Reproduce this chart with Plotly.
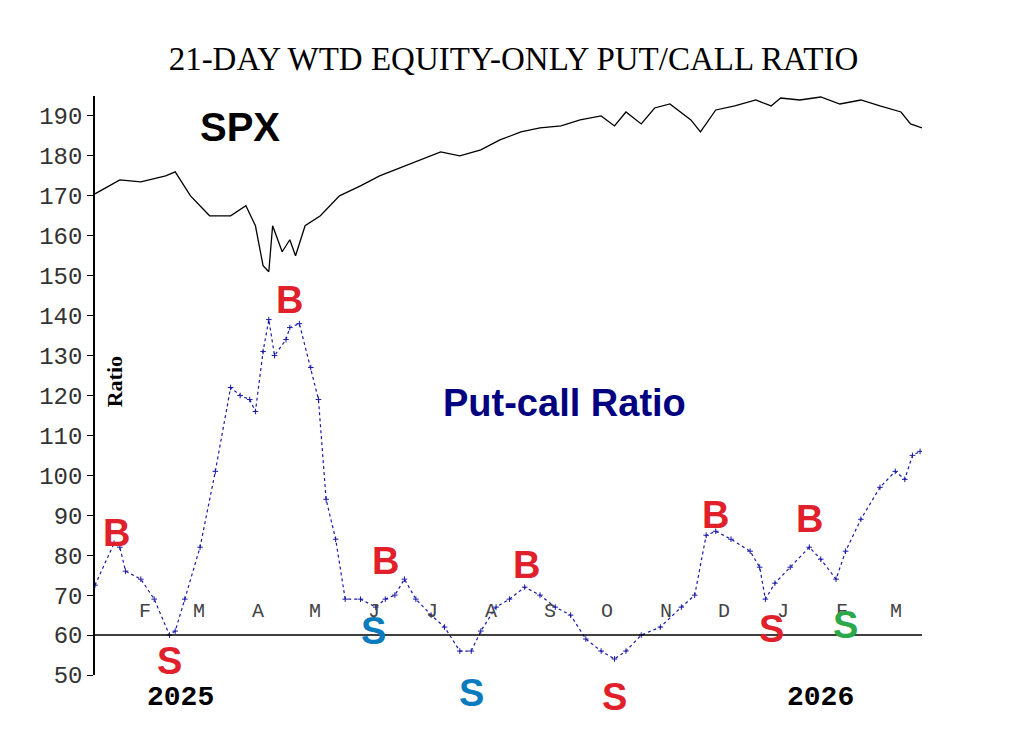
import plotly.graph_objects as go

ratio_dates = ["2025-01-10","2025-01-20","2025-01-23","2025-01-26","2025-02-03","2025-02-10","2025-02-18","2025-02-21","2025-02-26","2025-03-06","2025-03-14","2025-03-22","2025-03-27","2025-04-01","2025-04-04","2025-04-08","2025-04-11","2025-04-14","2025-04-20","2025-04-22","2025-04-27","2025-05-03","2025-05-07","2025-05-11","2025-05-16","2025-05-21","2025-05-29","2025-06-06","2025-06-11","2025-06-16","2025-06-21","2025-06-27","2025-07-05","2025-07-12","2025-07-20","2025-07-26","2025-07-31","2025-08-08","2025-08-15","2025-08-23","2025-08-31","2025-09-08","2025-09-16","2025-09-24","2025-10-02","2025-10-09","2025-10-15","2025-10-23","2025-11-02","2025-11-13","2025-11-20","2025-11-26","2025-12-01","2025-12-09","2025-12-19","2025-12-24","2025-12-27","2026-01-01","2026-01-09","2026-01-19","2026-01-25","2026-02-02","2026-02-07","2026-02-15","2026-02-25","2026-03-05","2026-03-10","2026-03-14","2026-03-18"]
ratio_vals = [72.5,83,82,76,74,69,60,61,69,82,101,122,120,119,116,131,139,130,134,137,138,127,119,94,84,69,69,67,69,70,74,69,65,62,56,56,61,67,69,72,70,67,65,59,56,54,56,60,62,67,70,85,86,84,81,77,69,73,77,82,79,74,81,89,97,101,99,105,106]

spx_dates = ["2025-01-10","2025-01-23","2025-02-03","2025-02-16","2025-02-21","2025-03-01","2025-03-11","2025-03-22","2025-03-30","2025-04-04","2025-04-08","2025-04-11","2025-04-13","2025-04-18","2025-04-22","2025-04-25","2025-04-30","2025-05-08","2025-05-18","2025-05-29","2025-06-08","2025-06-19","2025-06-29","2025-07-10","2025-07-20","2025-07-31","2025-08-10","2025-08-21","2025-08-31","2025-09-11","2025-09-21","2025-10-02","2025-10-09","2025-10-15","2025-10-23","2025-10-30","2025-11-07","2025-11-18","2025-11-23","2025-12-01","2025-12-11","2025-12-22","2025-12-30","2026-01-04","2026-01-14","2026-01-25","2026-02-04","2026-02-15","2026-02-25","2026-03-08","2026-03-13","2026-03-19"]
spx_vals = [170.5,174,173.5,175,176,170,165,165,167.5,162.5,152.5,151,162.5,156,159,155,162.5,165,170,172.5,175,177,179,181,180,181.5,184,186,187,187.5,189,190,187.5,191,188,192,193,189,186,191.5,192.5,194,192.5,194.5,194,194.75,193,194,192.5,191,188,187]

y_ticks = [50,60,70,80,90,100,110,120,130,140,150,160,170,180,190]
months = [("2025-02-01","F"),("2025-03-01","M"),("2025-04-01","A"),("2025-05-01","M"),("2025-06-01","J"),("2025-07-01","J"),("2025-08-01","A"),("2025-09-01","S"),("2025-10-01","O"),("2025-11-01","N"),("2025-12-01","D"),("2026-01-01","J"),("2026-02-01","F"),("2026-03-01","M")]
# (date, value, letter, colour, extra downward pixel shift for marks below the axis floor)
signals = [("2025-01-21",85.5,"B","#e0202a",0),("2025-04-22",144,"B","#e0202a",0),("2025-06-11",78.5,"B","#e0202a",0),("2025-08-24",77.5,"B","#e0202a",0),("2025-12-01",90,"B","#e0202a",0),("2026-01-19",89,"B","#e0202a",0),
           ("2025-02-18",53.5,"S","#e0202a",0),("2025-10-09",50,"S","#e0202a",-22),("2025-12-30",61.5,"S","#e0202a",0),
           ("2025-06-05",61,"S","#0a7bbd",0),("2025-07-26",50,"S","#0a7bbd",-18),("2026-02-07",62.5,"S","#2aa84a",0)]

fig = go.Figure()
fig.add_trace(go.Scatter(x=spx_dates, y=spx_vals, mode="lines", line=dict(color="black", width=1.3), hoverinfo="skip"))
fig.add_trace(go.Scatter(x=ratio_dates, y=ratio_vals, mode="lines+markers", line=dict(color="#1a1aa8", width=1.2, dash="dot"),
                         marker=dict(symbol="cross-thin", size=4, line=dict(color="#1a1aa8", width=1)), hoverinfo="skip"))
fig.add_shape(type="line", xref="paper", x0=0, x1=1, yref="y", y0=60, y1=60, line=dict(color="black", width=1.5))

for d, m in months:
    fig.add_annotation(x=d, y=66, text=m, showarrow=False, xanchor="left", font=dict(family="Courier New, Liberation Mono, monospace", size=20, color="#444"))
for d, y, t, c, sh in signals:
    fig.add_annotation(x=d, y=y, yshift=sh, text="<b>"+t+"</b>", showarrow=False, xanchor="center",
                       font=dict(family="Liberation Sans, Arial", size=38, color=c))

def pa(x, y, text, font, **kw):
    fig.add_annotation(x=x, y=y, xref="paper", yref="paper", text=text, showarrow=False, xanchor="center", yanchor="middle", font=font, **kw)

pa(0.175, 0.947, "<b>SPX</b>", dict(family="Liberation Sans, Arial", size=40, color="black"))
pa(0.568, 0.47, "<b>Put-call Ratio</b>", dict(family="Liberation Sans, Arial", size=38, color="#000080"))
pa(0.024, 0.507, "<b>Ratio</b>", dict(family="Liberation Serif, serif", size=22, color="black"), textangle=-90)
pa(0.103, -0.039, "<b>2025</b>", dict(family="Courier New, Liberation Mono, monospace", size=28, color="black"))
pa(0.877, -0.039, "<b>2026</b>", dict(family="Courier New, Liberation Mono, monospace", size=28, color="black"))

fig.update_layout(
    width=1017, height=756, paper_bgcolor="white", plot_bgcolor="white", showlegend=False,
    margin=dict(l=87, r=103, t=88, b=89),
    title=dict(text="21-DAY WTD EQUITY-ONLY PUT/CALL RATIO", x=0.497, y=0.948, xanchor="center",
               font=dict(family="Liberation Serif, serif", size=33, color="black")),
    xaxis=dict(range=["2025-01-10","2026-03-19"], showticklabels=False, showgrid=False, zeroline=False, showline=False, ticks=""),
    yaxis=dict(range=[50,195], tickvals=y_ticks, showgrid=False, zeroline=False, showline=True, linecolor="black", linewidth=1.5,
               ticks="outside", ticklen=6, tickcolor="black",
               tickfont=dict(family="Courier New, Liberation Mono, monospace", size=24, color="#333")),
)
fig.write_html("out.html")
